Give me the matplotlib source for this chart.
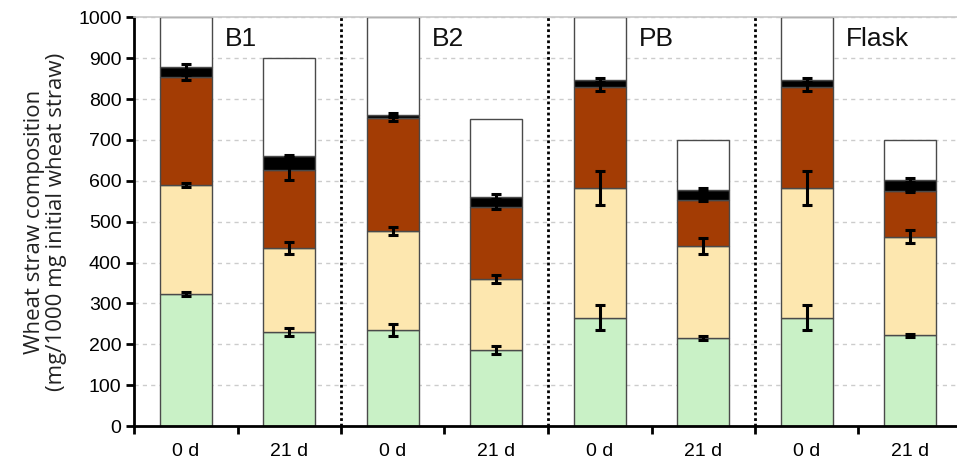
import matplotlib.pyplot as plt
import numpy as np

# ── data (mg / 1000 mg initial wheat straw) ──────────────────────────────────
GROUPS = ["B1", "B2", "PB", "Flask"]
DAYS = ["0 d", "21 d"]

green = [322, 230, 235, 185, 265, 215, 265, 222]
green_err = [5, 11, 14, 10, 30, 5, 30, 4]
yellow = [268, 205, 242, 175, 318, 225, 318, 241]
yellow_err = [4, 14, 9, 10, 42, 20, 42, 16]
brown = [263, 191, 276, 177, 246, 114, 246, 112]
brown_err = [6, 24, 6, 6, 10, 4, 10, 3]
black = [26, 34, 8, 24, 18, 24, 18, 27]
black_err = [7, 3, 6, 6, 5, 4, 5, 4]
totals = [1000, 900, 1000, 750, 1000, 700, 1000, 700]

COLORS = ["#c9f1c6", "#fde7af", "#a33c04", "#000000", "#ffffff"]
EDGE = "#4a4a4a"

plt.rcParams["font.family"] = ["Liberation Sans", "DejaVu Sans"]

fig = plt.figure(figsize=(9.57, 4.61), dpi=100)
ax = fig.add_axes([134 / 957, 35 / 461, 828 / 957, 408.7 / 461])

x = np.arange(len(green))
bottoms = np.zeros(len(green))
segments = [green, yellow, brown, black]
errs = [green_err, yellow_err, brown_err, black_err]
white = np.array(totals) - np.array(green) - np.array(yellow) - np.array(brown) - np.array(black)

for seg, col in zip(segments + [white], COLORS):
    ax.bar(x, seg, width=0.5, bottom=bottoms, color=col, edgecolor=EDGE,
           linewidth=1.0, zorder=2)
    bottoms = bottoms + np.array(seg)

tops = np.zeros(len(green))
for seg, err in zip(segments, errs):
    tops = tops + np.array(seg)
    ax.errorbar(x, tops, yerr=err, fmt="none", ecolor="black", elinewidth=2.2,
                capsize=3.6, capthick=2.2, zorder=3)

# group separators
for sep in [1.5, 3.5, 5.5]:
    ax.plot([sep, sep], [0, 1000], color="black", linestyle=(0, (1, 1)),
            linewidth=2, zorder=1, clip_on=False)

# group labels
for i, name in enumerate(GROUPS):
    ax.text(2 * i + 0.38, 947, name, fontsize=19, ha="left", va="center",
            color="#111111", zorder=4)

ax.set_xlim(-0.5, 7.5)
ax.set_ylim(0, 1000)
ax.set_yticks(np.arange(0, 1001, 100))
ax.set_xticks(x)
ax.set_xticklabels(DAYS * 4)
ax.set_xticks(np.arange(-0.5, 8, 1), minor=True)
ax.tick_params(axis="x", which="major", length=0, pad=12, labelsize=14)
ax.tick_params(axis="x", which="minor", length=6, width=2, direction="out")
ax.tick_params(axis="y", length=6, width=2, direction="out", labelsize=14, pad=3)

ax.yaxis.grid(True, color="#cccccc", linestyle=(0, (3, 3)), linewidth=1, zorder=0)
ax.set_axisbelow(True)
ax.spines["right"].set_visible(False)
ax.spines["top"].set_color("#c8c8c8")
ax.spines["top"].set_linewidth(1.2)
ax.spines["left"].set_linewidth(2)
ax.spines["bottom"].set_linewidth(2)

ax.set_ylabel("Wheat straw composition\n(mg/1000 mg initial wheat straw)",
              fontsize=16, family=["Open Sans", "DejaVu Sans"], labelpad=8,
              linespacing=1.05, color="#222222")

fig.savefig("out.png", dpi=100)
